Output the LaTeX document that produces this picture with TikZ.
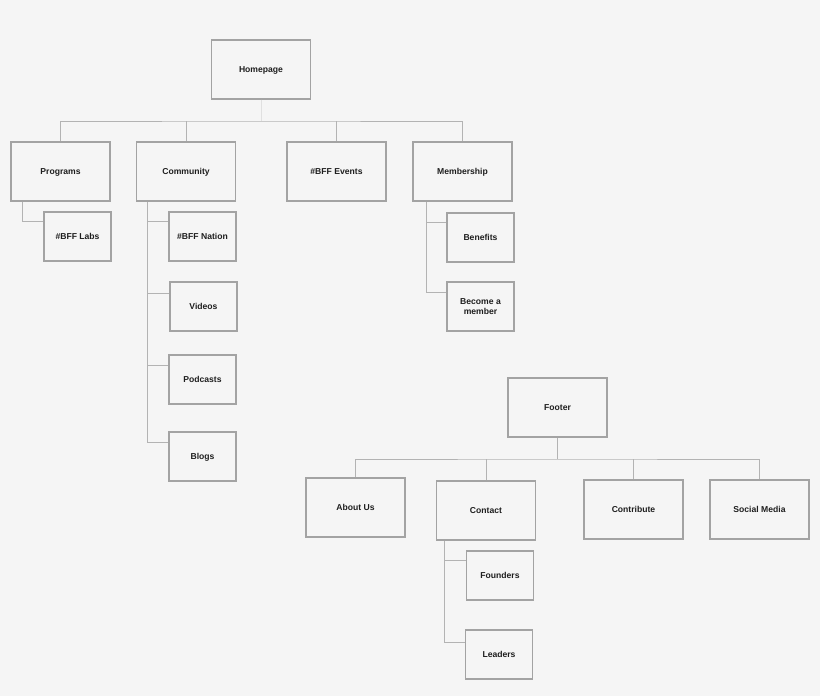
\documentclass[tikz,border=0pt]{standalone}
\usepackage{fontspec}
\setmainfont{Liberation Sans}
\usetikzlibrary{calc}
\definecolor{bgc}{HTML}{F5F5F5}
\definecolor{boxc}{HTML}{A3A3A3}
\definecolor{linec}{HTML}{B3B3B3}
\definecolor{lightc}{HTML}{E0E0E0}
\definecolor{txtc}{HTML}{1E1E1E}
\tikzset{
  base/.style={draw=boxc, line width=1.15pt, inner sep=0pt, align=center,
    font=\fontsize{8.6}{10}\selectfont\bfseries, text=txtc, text depth=0pt},
  big/.style={base, minimum width=99pt, minimum height=59pt},
  small/.style={base, minimum width=67pt, minimum height=49pt},
  conn/.style={draw=linec, line width=1pt},
  connlight/.style={draw=lightc, line width=1pt},
}
\begin{document}
\begin{tikzpicture}[x=1pt,y=-1pt]
\fill[bgc] (0,0) rectangle (820,696);
\useasboundingbox (0,0) rectangle (820,696);
% top tree
\node[big] (home) at (261,69.5) {Homepage};
\node[big] (prog) at (60.5,171.5) {Programs};
\node[big] (comm) at (186,171.5) {Community};
\node[big] (events) at (336.5,171.5) {\#BFF Events};
\node[big] (mem) at (462.5,171.5) {Membership};
\node[small] (labs) at (77.5,236.5) {\#BFF Labs};
\node[small] (nation) at (202.5,236.5) {\#BFF Nation};
\node[small] (videos) at (203.5,306.5) {Videos};
\node[small] (podcasts) at (202.5,379.5) {Podcasts};
\node[small] (blogs) at (202.5,456.5) {Blogs};
\node[small] (benefits) at (480.5,237.5) {Benefits};
\node[small] (become) at (480.5,306.5) {Become a\\member};
\coordinate (bus) at (261,121);
\draw[connlight] (home.south) -- (bus);
\draw[conn] (prog.north) |- (bus) -| (mem.north);
\draw[conn] (comm.north) -- (comm.north |- bus);
\draw[conn] (events.north) -- (events.north |- bus);
\coordinate (pstart) at ($(prog.south west)+(12,0)$);
\draw[conn] (pstart) |- ([yshift=-10pt]labs.north west);
\coordinate (cstart) at ($(comm.south west)+(12,0)$);
\draw[conn] (cstart) |- ([yshift=-10pt]nation.north west);
\draw[conn] (cstart) |- ([yshift=-12pt]videos.north west);
\draw[conn] (cstart) |- ([yshift=-11pt]podcasts.north west);
\draw[conn] (cstart) |- ([yshift=-11pt]blogs.north west);
\coordinate (mstart) at ($(mem.south west)+(14,0)$);
\draw[conn] (mstart) |- ([yshift=-10pt]benefits.north west);
\draw[conn] (mstart) |- ([yshift=-11pt]become.north west);
% footer tree
\node[big] (footer) at (557.5,407.5) {Footer};
\node[big] (about) at (355.5,507.5) {About Us};
\node[big] (contact) at (486,510.5) {Contact};
\node[big] (contrib) at (633.5,509.5) {Contribute};
\node[big] (social) at (759.5,509.5) {Social Media};
\node[small] (founders) at (500,575.5) {Founders};
\node[small] (leaders) at (499,654.5) {Leaders};
\coordinate (fbus) at (557.5,459);
\draw[conn] (footer.south) -- (fbus);
\draw[conn] (about.north) |- (fbus) -| (social.north);
\draw[conn] (contact.north) -- (contact.north |- fbus);
\draw[conn] (contrib.north) -- (contrib.north |- fbus);
\coordinate (kstart) at ($(contact.south west)+(9,0)$);
\draw[conn] (kstart) |- ([yshift=-10pt]founders.north west);
\draw[conn] (kstart) |- ([yshift=-13pt]leaders.north west);
\end{tikzpicture}
\end{document}
